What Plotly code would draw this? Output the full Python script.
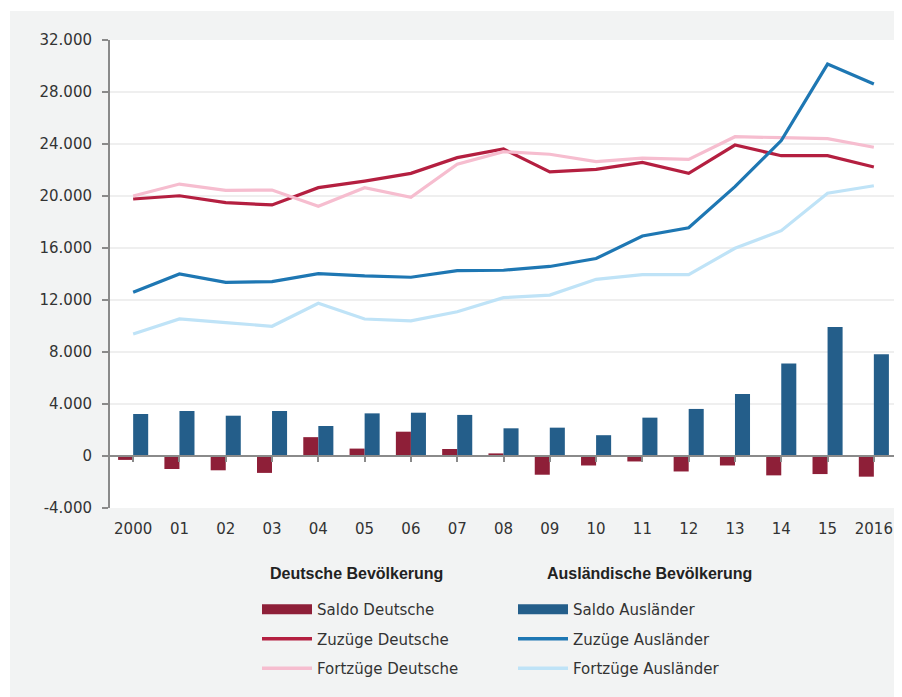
import plotly.graph_objects as go

years = list(range(2000, 2017))
year_labels = ["2000", "01", "02", "03", "04", "05", "06", "07", "08",
               "09", "10", "11", "12", "13", "14", "15", "2016"]

saldo_deutsche = [-300, -1000, -1100, -1300, 1450, 570, 1870, 540, 200,
                  -1440, -730, -420, -1190, -730, -1490, -1390, -1590]
saldo_auslaender = [3230, 3460, 3100, 3460, 2310, 3280, 3330, 3160, 2130,
                    2180, 1600, 2950, 3620, 4770, 7110, 9920, 7830]
zuzuege_deutsche = [19770, 20020, 19490, 19310, 20640, 21150, 21740, 22950, 23620,
                    21850, 22050, 22590, 21740, 23920, 23100, 23100, 22230]
fortzuege_deutsche = [20000, 20920, 20440, 20460, 19210, 20640, 19900, 22440, 23410,
                      23210, 22640, 22920, 22820, 24560, 24490, 24410, 23750]
zuzuege_auslaender = [12590, 14000, 13360, 13410, 14030, 13850, 13750, 14260, 14290,
                      14580, 15190, 16920, 17560, 20720, 24260, 30150, 28620]
fortzuege_auslaender = [9390, 10540, 10260, 9980, 11750, 10540, 10390, 11100, 12180,
                        12380, 13590, 13950, 13950, 15980, 17330, 20210, 20790]

y_ticks = [-4000, 0, 4000, 8000, 12000, 16000, 20000, 24000, 28000, 32000]
y_labels = ["-4.000", "0", "4.000", "8.000", "12.000", "16.000",
            "20.000", "24.000", "28.000", "32.000"]

RED_BAR = "#8e1f38"
BLUE_BAR = "#245e8a"
RED_LINE = "#b41f40"
PINK = "#f6bdcf"
BLUE_LINE = "#1e77b3"
LIGHT_BLUE = "#bfe3f7"
FONT = "DejaVu Sans"
TITLE_FONT = "Liberation Sans"

# page body has an 8px margin, so the figure is 8px smaller than the window
W, H = 894, 689
L, R, T, B = 102, 5, 32, 189
PW, PH = W - L - R, H - T - B

fig = go.Figure()

# bars (legend shown via wide line swatches below)
fig.add_trace(go.Bar(x=years, y=saldo_deutsche, marker_color=RED_BAR,
                     marker_line_width=0, showlegend=False))
fig.add_trace(go.Bar(x=years, y=saldo_auslaender, marker_color=BLUE_BAR,
                     marker_line_width=0, showlegend=False))

lines = [
    (zuzuege_deutsche, RED_LINE, "Zuzüge Deutsche"),
    (fortzuege_deutsche, PINK, "Fortzüge Deutsche"),
    (zuzuege_auslaender, BLUE_LINE, "Zuzüge Ausländer"),
    (fortzuege_auslaender, LIGHT_BLUE, "Fortzüge Ausländer"),
]
for vals, col, name in lines:
    fig.add_trace(go.Scatter(x=years, y=vals, mode="lines", name=name,
                             line=dict(color=col, width=3.2), showlegend=False))

# legend entries in the reference order
legend_items = [
    ("Saldo Deutsche", RED_BAR, 10, "legend"),
    ("Zuzüge Deutsche", RED_LINE, 3.5, "legend"),
    ("Fortzüge Deutsche", PINK, 3.5, "legend"),
    ("Saldo Ausländer", BLUE_BAR, 10, "legend2"),
    ("Zuzüge Ausländer", BLUE_LINE, 3.5, "legend2"),
    ("Fortzüge Ausländer", LIGHT_BLUE, 3.5, "legend2"),
]
for name, col, w, leg in legend_items:
    fig.add_trace(go.Scatter(x=[None], y=[None], mode="lines", name=name,
                             line=dict(color=col, width=w), legend=leg,
                             legendgroup=name, showlegend=True))

# axis line at zero with boundary ticks
fig.add_trace(go.Scatter(x=[None], y=[None], xaxis="x2", showlegend=False))


def px_x(sx):
    # screenshot x -> paper x
    return (sx - 8 - L) / PW


def px_y(sy):
    # screenshot y -> paper y
    return (T + PH - (sy - 8)) / PH


legend_common = dict(
    orientation="v", bgcolor="rgba(0,0,0,0)",
    font=dict(family=FONT, size=15, color="#333333"),
    tracegroupgap=7, itemwidth=50,
    xanchor="left", yanchor="top",
)
fig.update_layout(
    width=W, height=H,
    margin=dict(l=L, r=R, t=T, b=B),
    paper_bgcolor="white",
    plot_bgcolor="white",
    barmode="group", bargap=0.35, bargroupgap=0,
    font=dict(family=FONT, size=15, color="#333333"),
    legend=dict(**legend_common, x=px_x(257), y=px_y(593)),
    legend2=dict(**legend_common, x=px_x(513), y=px_y(593)),
    xaxis=dict(
        range=[1999.5, 2016.5], tickvals=years, ticktext=year_labels,
        showgrid=False, zeroline=False, showline=False, ticks="",
        ticklabelstandoff=10, tickfont=dict(size=15, color="#333333"),
    ),
    xaxis2=dict(
        overlaying="x", matches="x", anchor="free", position=4000 / 36000,
        range=[1999.5, 2016.5], tickmode="array", tickvals=years,
        tickson="boundaries", ticks="outside", ticklen=5, tickwidth=1.5,
        tickcolor="#8a8a8a", showline=True, linecolor="#8a8a8a", linewidth=2,
        showticklabels=False, showgrid=False, zeroline=False,
    ),
    yaxis=dict(
        range=[-4000, 32000], tickvals=y_ticks, ticktext=y_labels,
        showgrid=True, gridcolor="#efefef", gridwidth=1.5, zeroline=False,
        showline=True, linecolor="#8a8a8a", linewidth=2,
        ticks="outside", ticklen=6, tickwidth=1.5, tickcolor="#8a8a8a",
        ticklabelstandoff=7, tickfont=dict(size=15, color="#333333"),
    ),
    annotations=[
        dict(text="<b>Deutsche Bevölkerung</b>", xref="paper", yref="paper",
             x=px_x(268), y=px_y(573), xanchor="left", yanchor="middle",
             showarrow=False, font=dict(family=TITLE_FONT, size=16, color="#222222")),
        dict(text="<b>Ausländische Bevölkerung</b>", xref="paper", yref="paper",
             x=px_x(545), y=px_y(573), xanchor="left", yanchor="middle",
             showarrow=False, font=dict(family=TITLE_FONT, size=16, color="#222222")),
    ],
    shapes=[
        dict(type="rect", xref="paper", yref="paper", layer="below",
             x0=px_x(10), x1=px_x(903), y0=px_y(698), y1=px_y(11),
             fillcolor="#f2f3f3", line_width=0),
        dict(type="rect", xref="paper", yref="paper", layer="below",
             x0=0, x1=1, y0=0, y1=1, fillcolor="white", line_width=0),
    ],
)

fig.write_html("out.html")
